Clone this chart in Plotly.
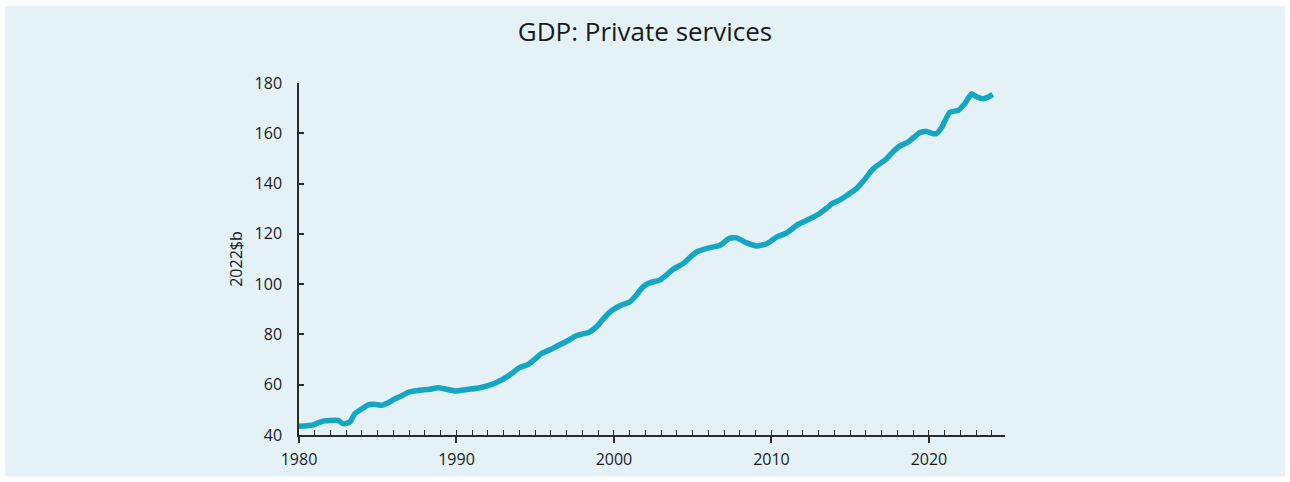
import plotly.graph_objects as go

# Real GDP, private services industries (2022 $ billion)
years = [
    1980.0, 1980.5, 1980.9, 1981.3, 1981.6, 1982.0, 1982.5, 1982.75, 1983.0, 1983.25,
    1983.55, 1983.9, 1984.4, 1984.8, 1985.25, 1985.6, 1986.1, 1986.5, 1986.95, 1987.4,
    1987.8, 1988.3, 1988.85, 1989.3, 1989.9, 1990.3, 1990.8, 1991.5, 1992.0, 1992.55,
    1993.2, 1993.6, 1994.0, 1994.56, 1995.0, 1995.4, 1995.9, 1996.36, 1997.0, 1997.6,
    1998.0, 1998.4, 1998.9, 1999.3, 1999.75, 2000.2, 2000.6, 2001.0, 2001.4, 2001.86,
    2002.3, 2002.9, 2003.3, 2003.77, 2004.4, 2004.85, 2005.25, 2005.9, 2006.3, 2006.73,
    2007.32, 2007.8, 2008.4, 2009.06, 2009.7, 2010.33, 2010.97, 2011.6, 2012.0, 2012.44,
    2013.08, 2013.5, 2013.9, 2014.35, 2014.9, 2015.4, 2015.9, 2016.46, 2017.3, 2017.7,
    2018.16, 2018.7, 2019.43, 2019.86, 2020.3, 2020.5, 2020.8, 2021.33, 2021.86, 2022.3,
    2022.7, 2023.0, 2023.45, 2023.76, 2024.05,
]
gdp = [
    43.5, 43.7, 44.0, 45.0, 45.6, 45.8, 45.8, 44.6, 44.6, 45.3,
    48.5, 50.0, 52.0, 52.2, 51.8, 52.6, 54.4, 55.5, 57.0, 57.6,
    57.9, 58.2, 58.8, 58.3, 57.5, 57.8, 58.2, 58.8, 59.6, 60.9,
    63.1, 64.9, 66.8, 68.1, 70.3, 72.4, 73.8, 75.3, 77.3, 79.5,
    80.2, 80.8, 83.1, 86.0, 89.0, 90.8, 92.0, 92.9, 95.5, 99.0,
    100.6, 101.6, 103.5, 106.0, 108.2, 110.8, 112.8, 114.2, 114.8, 115.4,
    118.2, 118.4, 116.5, 115.2, 116.1, 118.7, 120.4, 123.4, 124.7, 126.0,
    128.2, 130.2, 132.2, 133.5, 135.8, 138.0, 141.5, 145.9, 149.8, 152.5,
    155.0, 156.6, 160.3, 160.7, 159.8, 160.0, 162.2, 168.4, 169.1, 172.0,
    175.7, 174.6, 173.7, 174.4, 175.5,
]

y_ticks = [40, 60, 80, 100, 120, 140, 160, 180]
x_ticks = [1980, 1990, 2000, 2010, 2020]

W, H = 1290, 482
ML, MR, MT, MB = 299, 285, 83, 42
PW, PH = W - ML - MR, H - MT - MB

panel = "#E4F2F7"
axis_col = "#2b2b2b"
tick_font = dict(family="Open Sans, sans-serif", size=16, color="#1a1a1a")
x_range = [1980, 2024.83]

fig = go.Figure()
fig.add_trace(go.Scatter(
    x=years, y=gdp, mode="lines",
    line=dict(color="#13A7C3", width=5.5, shape="spline", smoothing=0.5),
    hoverinfo="x+y", showlegend=False,
))

fig.update_layout(
    width=W, height=H,
    margin=dict(l=ML, r=MR, t=MT, b=MB, pad=0),
    paper_bgcolor="white",
    plot_bgcolor=panel,
    title=dict(
        text="GDP: Private services",
        x=0.5, xref="container", xanchor="center",
        y=1 - 32 / H, yref="container", yanchor="middle",
        font=dict(family="Open Sans, sans-serif", size=26, color="#1a1a1a"),
    ),
    xaxis=dict(
        range=x_range, tickmode="array", tickvals=x_ticks,
        ticks="outside", ticklen=6, tickwidth=1.5, tickcolor=axis_col,
        showline=True, linecolor=axis_col, linewidth=1.5,
        showgrid=False, zeroline=False, tickfont=tick_font,
        ticklabelstandoff=3,
    ),
    # yearly ticks pointing up into the plot
    xaxis2=dict(
        range=x_range, overlaying="x", anchor="y", side="bottom",
        tickmode="linear", tick0=1980, dtick=1,
        ticks="inside", ticklen=5, tickwidth=1.3, tickcolor=axis_col,
        showticklabels=False, showline=False, showgrid=False, zeroline=False,
    ),
    yaxis=dict(
        range=[40, 180], tickmode="array", tickvals=y_ticks,
        ticks="inside", ticklen=5, tickwidth=1.5, tickcolor=axis_col,
        showline=True, linecolor=axis_col, linewidth=1.5,
        showgrid=False, zeroline=False, tickfont=tick_font,
        ticklabelstandoff=12,
        title=dict(text="2022$b", font=dict(family="Open Sans, sans-serif", size=16, color="#1a1a1a"), standoff=8),
    ),
    shapes=[dict(
        type="rect", layer="below", xref="paper", yref="paper",
        x0=(5 - ML) / PW, x1=(1285 - ML) / PW,
        y0=(H - MB - 482) / PH, y1=(H - MB - 5) / PH,
        fillcolor=panel, line=dict(width=0),
    )],
)

# keep the second axis present so its ticks draw
fig.add_trace(go.Scatter(x=[None], y=[None], xaxis="x2", showlegend=False, hoverinfo="skip"))

fig.write_html("out.html")
